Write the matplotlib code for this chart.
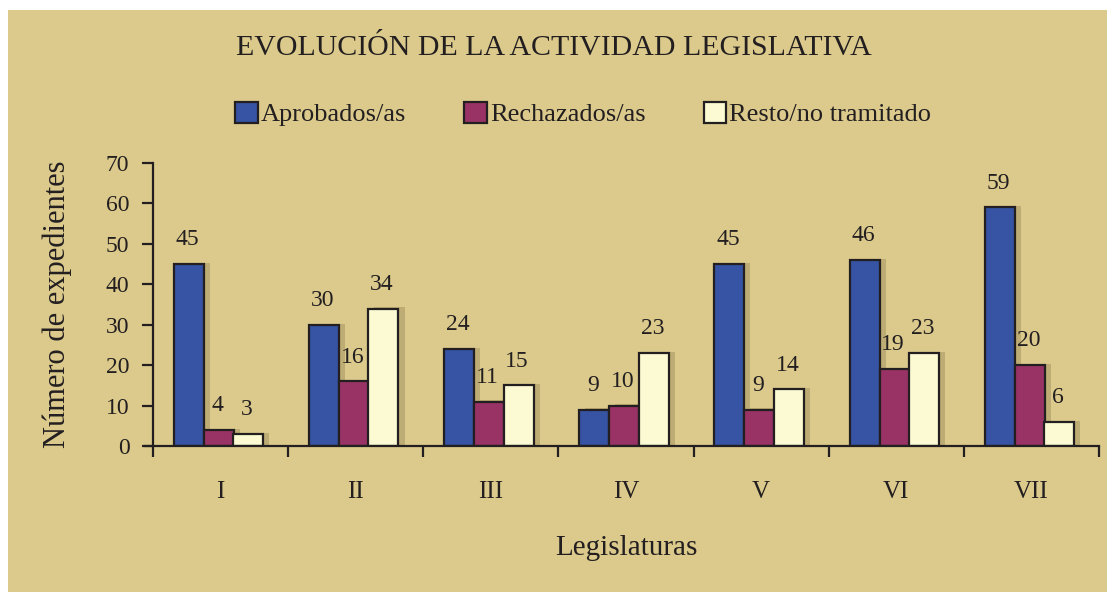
import numpy as np
import matplotlib.pyplot as plt
from matplotlib.patches import Rectangle, Patch

# data
legislaturas = ["I", "II", "III", "IV", "V", "VI", "VII"]
aprobados = [45, 30, 24, 9, 45, 46, 59]
rechazados = [4, 16, 11, 10, 9, 19, 20]
resto = [3, 34, 15, 23, 14, 23, 6]
series_names = ["Aprobados/as", "Rechazados/as", "Resto/no tramitado"]

colors = ["#3653a4", "#993366", "#fcfad2"]
bg = "#dbca8c"
shadow = "#bdac73"
ink = "#231f20"

plt.rcParams['font.family'] = ['Liberation Serif', 'DejaVu Serif']

fig = plt.figure(figsize=(11.07, 5.92), dpi=100)
fig.patch.set_facecolor("white")
# tan panel
fig.patches.append(Rectangle((8 / 1107, 0), 1, 1 - 10 / 592, transform=fig.transFigure,
                             facecolor=bg, edgecolor="none", zorder=-10))

ax = fig.add_axes([153 / 1107, 1 - 446 / 592, 946 / 1107, (446 - 163) / 592])
ax.set_facecolor("none")

x = np.arange(len(legislaturas))
w = 0.222
offsets = [-0.235, -0.013, 0.205]
for vals, off, col in zip([aprobados, rechazados, resto], offsets, colors):
    # shadow
    ax.bar(x + off + 0.045, np.array(vals) + 0.3, width=w, color=shadow,
           edgecolor="none", zorder=1)
for vals, off, col in zip([aprobados, rechazados, resto], offsets, colors):
    bars = ax.bar(x + off, vals, width=w, color=col, edgecolor=ink,
                  linewidth=1.6, zorder=2)
    for xi, v in zip(x + off, vals):
        ax.text(xi - 0.01, v + 3.4, str(v), ha="center", va="bottom", fontsize=17,
                color=ink)

ax.set_xlim(-0.5, len(legislaturas) - 0.5)
ax.set_ylim(0, 70)
ax.set_yticks(range(0, 71, 10))
ax.set_xticks(x)
ax.set_xticklabels(legislaturas)
ax.set_xticks(np.arange(-0.5, len(legislaturas)), minor=True)
ax.tick_params(axis="x", which="major", length=0, pad=25, labelsize=18, colors=ink)
ax.tick_params(axis="x", which="minor", length=8, width=1.6, direction="out", color=ink)
ax.tick_params(axis="y", length=8, width=1.6, direction="out", pad=9,
               labelsize=17, colors=ink)
for s in ["top", "right"]:
    ax.spines[s].set_visible(False)
for s in ["left", "bottom"]:
    ax.spines[s].set_linewidth(1.6)
    ax.spines[s].set_color(ink)
ax.spines["bottom"].set_bounds(-0.56, len(legislaturas) - 0.5)
ax.spines["bottom"].set_clip_on(False)

ax.set_ylabel("Número de expedientes", fontsize=22, color=ink, labelpad=24)
ax.set_xlabel("Legislaturas", fontsize=21, color=ink, labelpad=23)

fig.text(0.5, 1 - 48 / 592, "EVOLUCIÓN DE LA ACTIVIDAD LEGISLATIVA", ha="center",
         va="center", fontsize=21.5, color=ink)

handles = [Patch(facecolor=c, edgecolor=ink, linewidth=1.6) for c in colors]
fig.legend(handles, series_names, loc="center", bbox_to_anchor=(0.527, 1 - 114 / 592),
           ncol=3, frameon=False, fontsize=19, handlelength=0.85, handleheight=0.85,
           handletextpad=0.12, columnspacing=2.2, labelcolor=ink)

fig.savefig("out.png", dpi=100)
